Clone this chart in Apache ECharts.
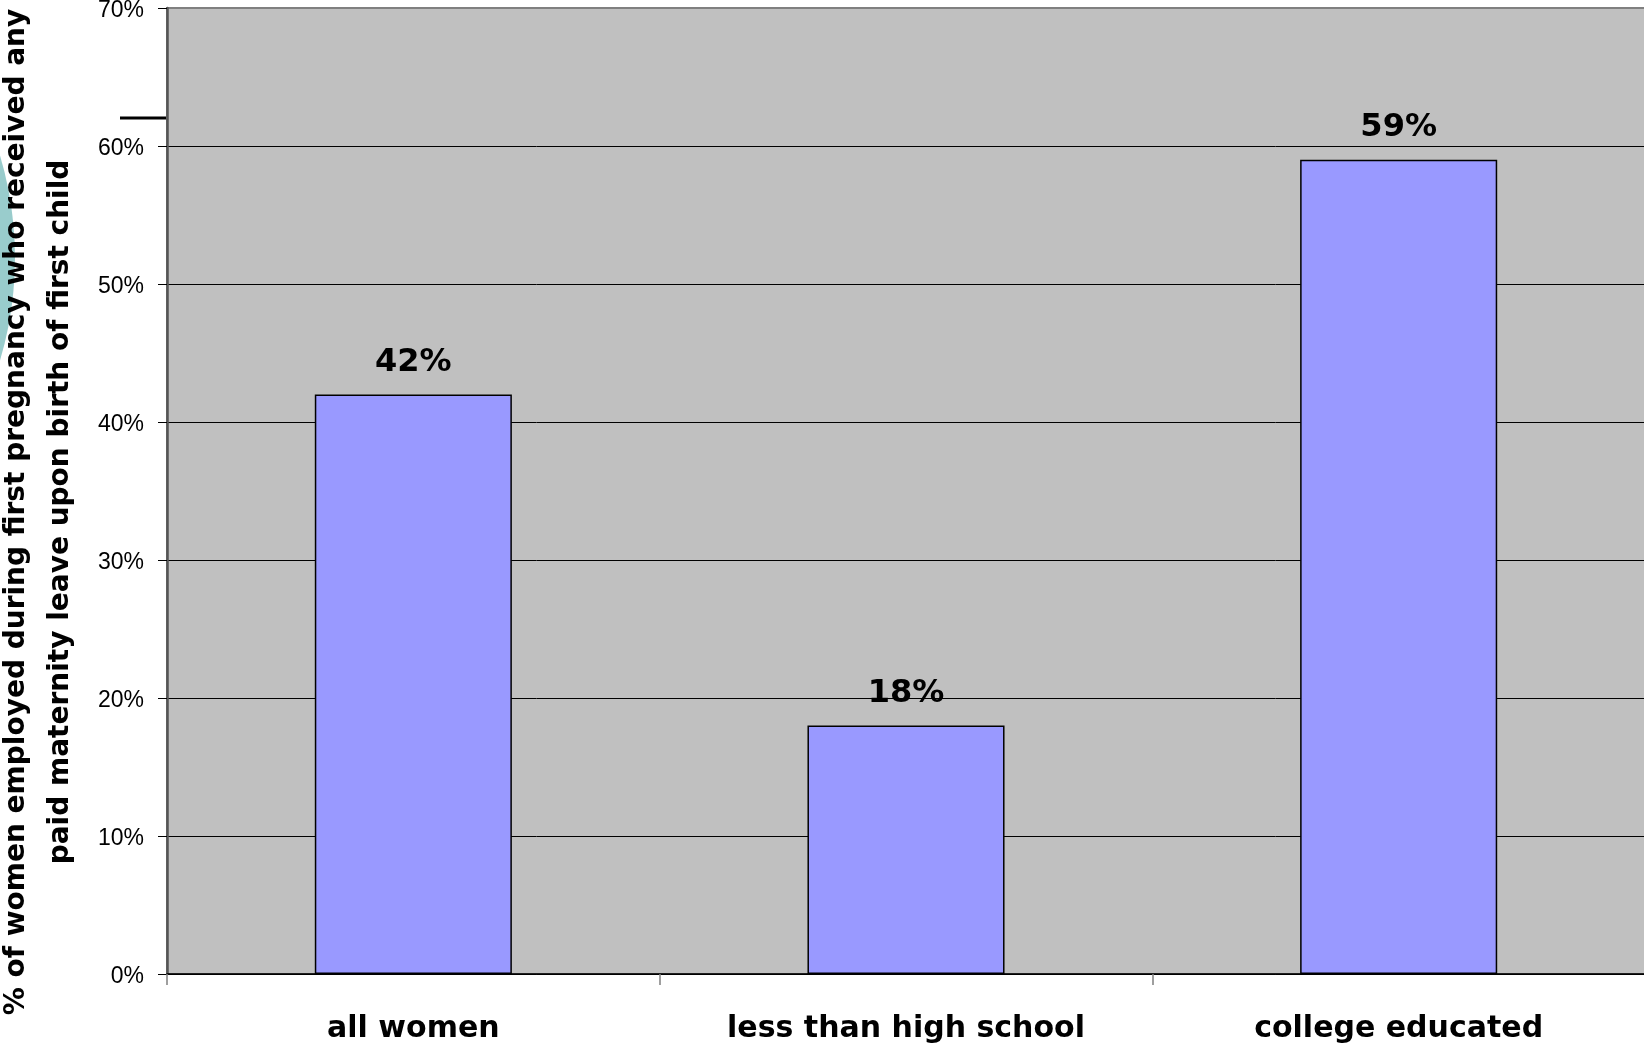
<!DOCTYPE html>
<html>
<head>
<meta charset="utf-8">
<script src="https://cdn.jsdelivr.net/npm/echarts@6/dist/echarts.min.js"></script>
<style>
  html, body { margin: 0; padding: 0; background: #ffffff; }
  #chart { width: 1644px; height: 1044px; }
</style>
</head>
<body>
<div id="chart"></div>
<script>
const categories = ['all women', 'less than high school', 'college educated'];
const paidLeavePct = [42, 18, 59];
const yAxisTitleLines = [
  '% of women employed during first pregnancy who received any',
  'paid maternity leave upon birth of first child'
];

const chart = echarts.init(document.getElementById('chart'), null, { renderer: 'canvas' });

chart.setOption({
  backgroundColor: '#ffffff',
  animation: false,
  grid: {
    left: 167, right: -1, top: 8, bottom: 70,
    containLabel: false,
    outerBoundsMode: 'none',
    show: true, backgroundColor: '#C0C0C0',
    borderColor: '#808080', borderWidth: 2
  },
  xAxis: {
    type: 'category',
    data: categories,
    axisLine: { show: true, lineStyle: { color: '#000000', width: 1.5 } },
    axisTick: { show: true, length: 11, lineStyle: { color: '#808080', width: 1.5 } },
    axisLabel: {
      color: '#000000', fontFamily: 'DejaVu Sans', fontWeight: 'bold',
      fontSize: 30, margin: 40
    },
    splitLine: { show: false }
  },
  yAxis: {
    type: 'value',
    min: 0, max: 70, interval: 10,
    axisLine: { show: true, lineStyle: { color: '#555555', width: 2.5 } },
    axisTick: { show: true, length: 9, lineStyle: { color: '#000000', width: 1 } },
    axisLabel: {
      formatter: '{t|{value}%}', color: '#000000',
      fontFamily: 'Liberation Sans', fontSize: 23, margin: 23,
      rich: {
        t: {
          fontFamily: 'Liberation Sans', fontSize: 23, color: '#000000',
          padding: [6, 0, 0, 0]
        }
      }
    },
    splitLine: { show: true, showMaxLine: false, lineStyle: { color: '#000000', width: 1 } }
  },
  series: [{
    type: 'bar',
    data: paidLeavePct,
    barWidth: '40%',
    itemStyle: { color: '#9999FF', borderColor: '#000000', borderWidth: 1.5 },
    label: {
      show: true, position: 'top', distance: 16,
      formatter: '{c}%', color: '#000000',
      fontFamily: 'DejaVu Sans', fontWeight: 'bold', fontSize: 32
    }
  }],
  graphic: [
    {
      type: 'circle', z: 0,
      shape: { cx: -343, cy: 258, r: 358 },
      style: { fill: '#99CCCC' }
    },
    {
      type: 'line', z: 1,
      shape: { x1: 120, y1: 118, x2: 166, y2: 118 },
      style: { stroke: '#000000', lineWidth: 3 }
    },
    {
      type: 'text', z: 2,
      x: 39, y: 512,
      rotation: Math.PI / 2,
      style: {
        text: yAxisTitleLines.join('\n'),
        fill: '#000000',
        fontFamily: 'DejaVu Sans', fontWeight: 'bold', fontSize: 28,
        lineHeight: 44,
        align: 'center', verticalAlign: 'middle',
        textAlign: 'center', textVerticalAlign: 'middle'
      }
    }
  ]
});
</script>
</body>
</html>
